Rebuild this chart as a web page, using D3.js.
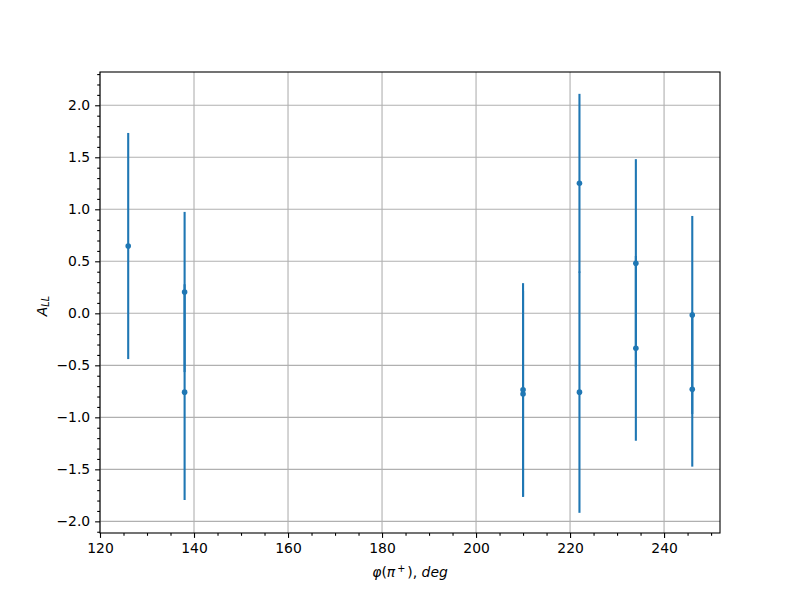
<!DOCTYPE html>
<html><head><meta charset="utf-8">
<script src="https://cdn.jsdelivr.net/npm/d3@7"></script>
<style>body{margin:0;background:#fff}</style>
</head><body>
<svg id="c" width="800" height="600"></svg>
<script>
// Data
const phi    = [126, 138, 138, 210, 210, 222, 222, 234, 234, 246, 246];
const aLL    = [0.647, 0.205, -0.758, -0.735, -0.775, 1.250, -0.758, 0.482, -0.337, -0.016, -0.731];
const aErr   = [1.087, 0.770, 1.037, 1.025, 0.990, 0.860, 1.160, 1.000, 0.888, 0.952, 0.743];
const xTicks = [120, 140, 160, 180, 200, 220, 240];
const yTicks = [-2.0, -1.5, -1.0, -0.5, 0.0, 0.5, 1.0, 1.5, 2.0];

const svg = d3.select("#c");
const L = 100, R = 720, T = 72, B = 533;
const x = d3.scaleLinear().domain([120, 251.9]).range([L, R]);
const y = d3.scaleLinear().domain([-2.112, 2.32]).range([B, T]);
const font = "DejaVu Sans, sans-serif";
const fs = 13.9;
const fmt = v => d3.format(".1f")(v).replace("-", "\u2212");

svg.append("rect").attr("width", 800).attr("height", 600).attr("fill", "#fff");

// grid
const g = svg.append("g");
g.selectAll(".gx").data(xTicks).join("line")
  .attr("x1", d => x(d)).attr("x2", d => x(d)).attr("y1", T).attr("y2", B)
  .attr("stroke", "#b0b0b0").attr("stroke-width", 1.1);
g.selectAll(".gy").data(yTicks).join("line")
  .attr("y1", d => y(d)).attr("y2", d => y(d)).attr("x1", L).attr("x2", R)
  .attr("stroke", "#b0b0b0").attr("stroke-width", 1.1);

// error bars
const idx = d3.range(phi.length);
svg.append("g").selectAll("line").data(idx).join("line")
  .attr("x1", i => x(phi[i])).attr("x2", i => x(phi[i]))
  .attr("y1", i => y(aLL[i] - aErr[i])).attr("y2", i => y(aLL[i] + aErr[i]))
  .attr("stroke", "#1f77b4").attr("stroke-width", 2.1);
svg.append("g").selectAll("circle").data(idx).join("circle")
  .attr("cx", i => x(phi[i])).attr("cy", i => y(aLL[i])).attr("r", 2.8)
  .attr("fill", "#1f77b4");

// axes
const xAxis = d3.axisBottom(x).tickValues(xTicks).tickSize(4.9).tickPadding(4.9).tickFormat(d => d3.format("d")(d));
const xMinor = d3.axisBottom(x).tickValues(d3.range(125, 252, 5).filter(v => v % 20 !== 0)).tickSize(2.8).tickFormat("");
const yAxis = d3.axisLeft(y).tickValues(yTicks).tickSize(4.9).tickPadding(4.9).tickFormat(fmt);
const yMinor = d3.axisLeft(y).tickValues(d3.range(-21, 24, 1).map(v => v / 10).filter(v => Math.abs(Math.round(v * 10)) % 5 !== 0)).tickSize(2.8).tickFormat("");

function styleAxis(sel) {
  sel.select(".domain").remove();
  sel.selectAll("line").attr("stroke", "#000").attr("stroke-width", 1.1);
  sel.selectAll("text").attr("font-family", font).attr("font-size", fs).attr("fill", "#000");
}
svg.append("g").attr("transform", `translate(0,${B})`).call(xAxis).call(styleAxis);
svg.append("g").attr("transform", `translate(0,${B})`).call(xMinor).call(styleAxis);
svg.append("g").attr("transform", `translate(${L},0)`).call(yAxis).call(styleAxis);
svg.append("g").attr("transform", `translate(${L},0)`).call(yMinor).call(styleAxis);

// frame
svg.append("rect").attr("x", L).attr("y", T).attr("width", R - L).attr("height", B - T)
  .attr("fill", "none").attr("stroke", "#000").attr("stroke-width", 1.1);

// x label
const xl = svg.append("text").attr("x", (L + R) / 2).attr("y", 577)
  .attr("text-anchor", "middle").attr("font-family", font).attr("font-size", fs);
xl.append("tspan").attr("font-style", "italic").text("φ");
xl.append("tspan").text("(");
xl.append("tspan").attr("font-style", "italic").text("π");
xl.append("tspan").attr("font-size", fs * 0.7).attr("dx", 2).attr("dy", -5.5).text("+");
xl.append("tspan").attr("dx", 2).attr("dy", 5.5).text(")");
xl.append("tspan").text(", ");
xl.append("tspan").attr("font-style", "italic").text("deg");

// y label
const yl = svg.append("text").attr("transform", `translate(46.5,306) rotate(-90)`)
  .attr("text-anchor", "middle").attr("font-family", font).attr("font-size", fs);
yl.append("tspan").attr("font-style", "italic").text("A");
yl.append("tspan").attr("font-style", "italic").attr("font-size", fs * 0.7).attr("dy", 2.5).text("LL");
</script>
</body></html>
